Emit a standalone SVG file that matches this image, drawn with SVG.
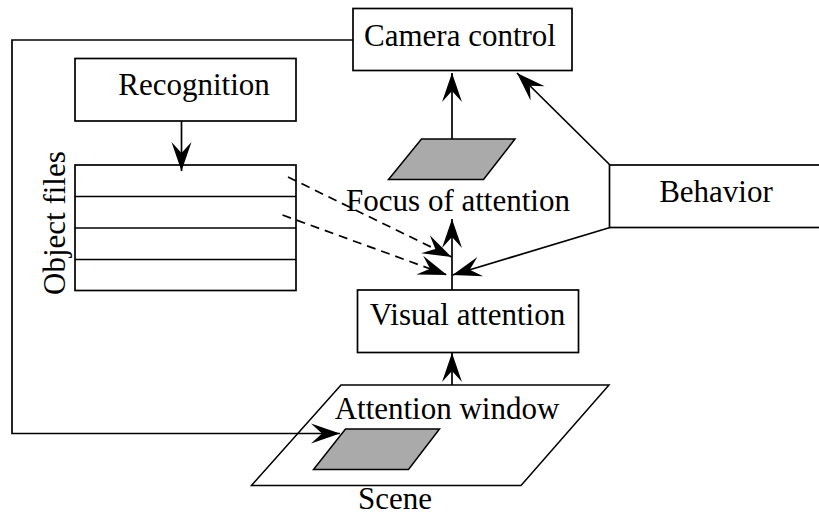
<svg xmlns="http://www.w3.org/2000/svg" width="819" height="516" viewBox="0 0 819 516">
  <style>
    .box { fill: #ffffff; stroke: #000000; stroke-width: 1.7; }
    .shade { fill: #aaaaaa; stroke: #000000; stroke-width: 1.5; }
    .plane { fill: none; stroke: #000000; stroke-width: 1.5; }
    .edge { fill: none; stroke: #000000; stroke-width: 1.7; }
    .dash { stroke-dasharray: 9 6; }
  </style>
  <defs>
    <marker id="head" markerUnits="userSpaceOnUse" markerWidth="32" markerHeight="22" refX="29" refY="10" orient="auto" overflow="visible">
      <path d="M29,10 L0,0 L11,10 L0,20 Z" fill="#000000"/>
    </marker>
  </defs>

  <rect width="819" height="516" fill="#ffffff"/>

  <g font-family="'Liberation Serif', 'DejaVu Serif', serif" font-size="31" fill="#000000">
    <!-- scene plane with attention window -->
    <g id="scene">
      <polygon class="plane" points="341,385 609,385 521,485.5 251.5,485.5"/>
      <polygon class="shade" points="345.5,429 439.5,429 408.5,469.5 313.5,469.5"/>
      <text x="447" y="419" text-anchor="middle">Attention window</text>
      <text x="395" y="509" text-anchor="middle">Scene</text>
    </g>

    <g id="camera-control">
      <rect class="box" x="353" y="8.5" width="219" height="62"/>
      <text x="460" y="46" text-anchor="middle">Camera control</text>
    </g>

    <g id="recognition">
      <rect class="box" x="75" y="58.5" width="221" height="62.5"/>
      <text x="194" y="95" text-anchor="middle">Recognition</text>
    </g>

    <g id="object-files">
      <rect class="box" x="75" y="165" width="221" height="125.5"/>
      <line class="edge" x1="75" y1="196.5" x2="296" y2="196.5"/>
      <line class="edge" x1="75" y1="228" x2="296" y2="228"/>
      <line class="edge" x1="75" y1="259.5" x2="296" y2="259.5"/>
      <text transform="translate(65,295) rotate(-90)">Object files</text>
    </g>

    <g id="focus-of-attention">
      <polygon class="shade" points="421.5,139 515,139 483.5,179.5 388.5,179.5"/>
      <text x="458" y="211" text-anchor="middle">Focus of attention</text>
    </g>

    <g id="behavior">
      <rect class="box" x="609.5" y="165" width="220" height="62.5"/>
      <text x="716" y="202" text-anchor="middle">Behavior</text>
    </g>

    <g id="visual-attention">
      <rect class="box" x="357.5" y="290" width="221" height="62.5"/>
      <text x="467.5" y="325" text-anchor="middle">Visual attention</text>
    </g>
  </g>

  <!-- connectors -->
  <g id="connectors">
    <path class="edge" d="M353,40 H12 V433.5 H340" marker-end="url(#head)"/>
    <path class="edge" d="M181.5,121 V171" marker-end="url(#head)"/>
    <path class="edge" d="M452,139 V73" marker-end="url(#head)"/>
    <path class="edge" d="M610,165 L517,73" marker-end="url(#head)"/>
    <path class="edge" d="M452,290 V219" marker-end="url(#head)"/>
    <path class="edge dash" d="M288,177 L451.5,257" marker-end="url(#head)"/>
    <path class="edge dash" d="M282.5,215 L447,275" marker-end="url(#head)"/>
    <path class="edge" d="M610,227.5 L452.5,275" marker-end="url(#head)"/>
    <path class="edge" d="M452,385 V353" marker-end="url(#head)"/>
  </g>
</svg>
